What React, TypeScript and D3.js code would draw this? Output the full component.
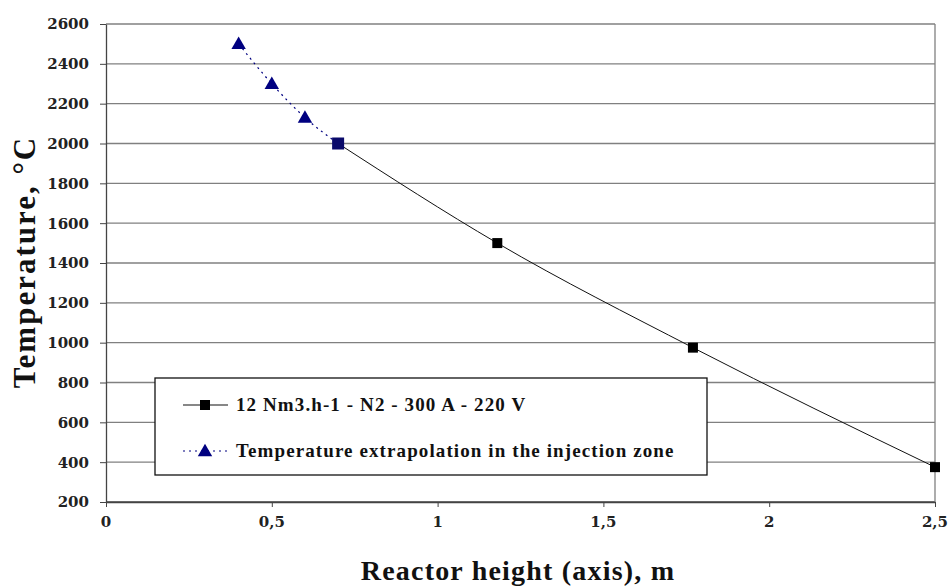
import * as d3 from 'd3';
import React, { useEffect, useRef } from 'react';

const measuredX = [0.7, 1.18, 1.77, 2.5];
const measuredT = [2000, 1500, 975, 375];
const extrapX = [0.4, 0.5, 0.6, 0.7];
const extrapT = [2500, 2300, 2130, 2000];
const xTicks = [0, 0.5, 1, 1.5, 2, 2.5];
const yTicks = [200, 400, 600, 800, 1000, 1200, 1400, 1600, 1800, 2000, 2200, 2400, 2600];
const legendLabels = [
  '12 Nm3.h-1 - N2 - 300 A - 220 V',
  'Temperature extrapolation in the injection zone',
];

const width = 948;
const height = 588;
const font = '"Liberation Serif", "Times New Roman", serif';
const tickFont = '"DejaVu Serif", serif';

const App = () => {
  const svgRef = useRef(null);

  useEffect(() => {
    const svg = d3.select(svgRef.current);
    svg.selectAll('*').remove();

    const xScale = d3.scaleLinear().domain([0, 2.5]).range([106, 935]);
    const yScale = d3.scaleLinear().domain([200, 2600]).range([502, 24]);

    // background
    svg.append('rect').attr('width', width).attr('height', height).attr('fill', '#fff');

    // horizontal gridlines
    svg
      .append('g')
      .selectAll('line')
      .data(yTicks)
      .enter()
      .append('line')
      .attr('x1', xScale(0))
      .attr('x2', xScale(2.5))
      .attr('y1', (d) => yScale(d))
      .attr('y2', (d) => yScale(d))
      .attr('stroke', (d) => (d === 200 ? '#444' : '#808080'))
      .attr('stroke-width', 1.3);

    // right border
    svg
      .append('line')
      .attr('x1', xScale(2.5))
      .attr('x2', xScale(2.5))
      .attr('y1', yScale(2600))
      .attr('y2', yScale(200))
      .attr('stroke', '#808080')
      .attr('stroke-width', 1.3);

    // y axis (lines only, labels drawn below)
    const yAxis = svg
      .append('g')
      .attr('transform', `translate(${xScale(0)},0)`)
      .call(d3.axisLeft(yScale).tickValues(yTicks).tickSize(6).tickSizeOuter(0).tickFormat(() => ''));
    yAxis.select('.domain').attr('stroke', '#444').attr('stroke-width', 1.3);
    yAxis.selectAll('.tick line').attr('stroke', '#444');

    svg
      .append('g')
      .selectAll('text')
      .data(yTicks)
      .enter()
      .append('text')
      .attr('x', 89)
      .attr('y', (d) => yScale(d))
      .attr('dy', '0.36em')
      .attr('text-anchor', 'end')
      .attr('font-family', tickFont)
      .attr('font-weight', 'bold')
      .attr('font-size', 15)
      .attr('fill', '#222')
      .text((d) => d3.format('d')(d));

    // x axis
    const xAxis = svg
      .append('g')
      .attr('transform', `translate(0,${yScale(200)})`)
      .call(d3.axisBottom(xScale).tickValues(xTicks).tickSize(5).tickSizeOuter(0).tickFormat(() => ''));
    xAxis.select('.domain').attr('stroke', '#444').attr('stroke-width', 1.3);
    xAxis.selectAll('.tick line').attr('stroke', '#444');

    svg
      .append('g')
      .selectAll('text')
      .data(xTicks)
      .enter()
      .append('text')
      .attr('x', (d) => xScale(d))
      .attr('y', 527)
      .attr('text-anchor', 'middle')
      .attr('font-family', tickFont)
      .attr('font-weight', 'bold')
      .attr('font-size', 15)
      .attr('fill', '#222')
      .text((d) => String(d).replace('.', ','));

    // axis titles
    svg
      .append('text')
      .attr('transform', `translate(35,262) rotate(-90)`)
      .attr('text-anchor', 'middle')
      .attr('font-family', font)
      .attr('font-weight', 'bold')
      .attr('font-size', 31)
      .attr('letter-spacing', 2)
      .attr('fill', '#111')
      .text('Temperature, °C');

    svg
      .append('text')
      .attr('x', 518)
      .attr('y', 580)
      .attr('text-anchor', 'middle')
      .attr('font-family', font)
      .attr('font-weight', 'bold')
      .attr('font-size', 28)
      .attr('letter-spacing', 1.2)
      .attr('fill', '#111')
      .text('Reactor height (axis), m');

    const measured = measuredX.map((x, i) => [x, measuredT[i]] as [number, number]);
    const extrap = extrapX.map((x, i) => [x, extrapT[i]] as [number, number]);

    const line = d3
      .line<[number, number]>()
      .x((d) => xScale(d[0]))
      .y((d) => yScale(d[1]))
      .curve(d3.curveMonotoneX);

    svg
      .append('path')
      .datum(measured)
      .attr('d', line)
      .attr('fill', 'none')
      .attr('stroke', '#111')
      .attr('stroke-width', 1);

    svg
      .append('path')
      .datum(extrap)
      .attr('d', line)
      .attr('fill', 'none')
      .attr('stroke', '#000080')
      .attr('stroke-width', 1.2)
      .attr('stroke-dasharray', '2,4');

    const tri = d3.symbol().type(d3.symbolTriangle).size(90);
    svg
      .append('g')
      .selectAll('path')
      .data(extrap.filter((d) => !measuredX.includes(d[0])))
      .enter()
      .append('path')
      .attr('d', tri)
      .attr('transform', (d) => `translate(${xScale(d[0])},${yScale(d[1]) + 1})`)
      .attr('fill', '#000080');

    svg
      .append('g')
      .selectAll('rect')
      .data(measured)
      .enter()
      .append('rect')
      .attr('x', (d) => xScale(d[0]) - (extrapX.includes(d[0]) ? 6 : 5))
      .attr('y', (d) => yScale(d[1]) - (extrapX.includes(d[0]) ? 6 : 5))
      .attr('width', (d) => (extrapX.includes(d[0]) ? 12 : 10))
      .attr('height', (d) => (extrapX.includes(d[0]) ? 12 : 10))
      .attr('fill', (d) => (extrapX.includes(d[0]) ? '#0a0a6a' : '#000'));

    // legend
    const lg = svg.append('g');
    lg.append('rect')
      .attr('x', 155)
      .attr('y', 378)
      .attr('width', 552)
      .attr('height', 97)
      .attr('fill', '#fff')
      .attr('stroke', '#111')
      .attr('stroke-width', 1.3);

    const rowY = [405, 451];
    lg.append('line')
      .attr('x1', 183)
      .attr('x2', 228)
      .attr('y1', rowY[0])
      .attr('y2', rowY[0])
      .attr('stroke', '#111')
      .attr('stroke-width', 1.2);
    lg.append('rect')
      .attr('x', 200)
      .attr('y', rowY[0] - 5)
      .attr('width', 10)
      .attr('height', 10)
      .attr('fill', '#000');
    lg.append('line')
      .attr('x1', 183)
      .attr('x2', 228)
      .attr('y1', rowY[1])
      .attr('y2', rowY[1])
      .attr('stroke', '#000080')
      .attr('stroke-width', 1.2)
      .attr('stroke-dasharray', '2,4');
    lg.append('path')
      .attr('d', tri)
      .attr('transform', `translate(205,${rowY[1] + 1})`)
      .attr('fill', '#000080');

    lg.selectAll('text.lbl')
      .data(legendLabels)
      .enter()
      .append('text')
      .attr('class', 'lbl')
      .attr('x', 236)
      .attr('y', (d, i) => rowY[i] + 6)
      .attr('font-family', font)
      .attr('font-weight', 'bold')
      .attr('font-size', 19)
      .attr('letter-spacing', 1.1)
      .attr('fill', '#111')
      .text((d) => d);
  }, []);

  return (
    <svg
      ref={svgRef}
      width={width}
      height={height}
      style={{ position: 'absolute', left: 0, top: 0 }}
    />
  );
};

export default App;
